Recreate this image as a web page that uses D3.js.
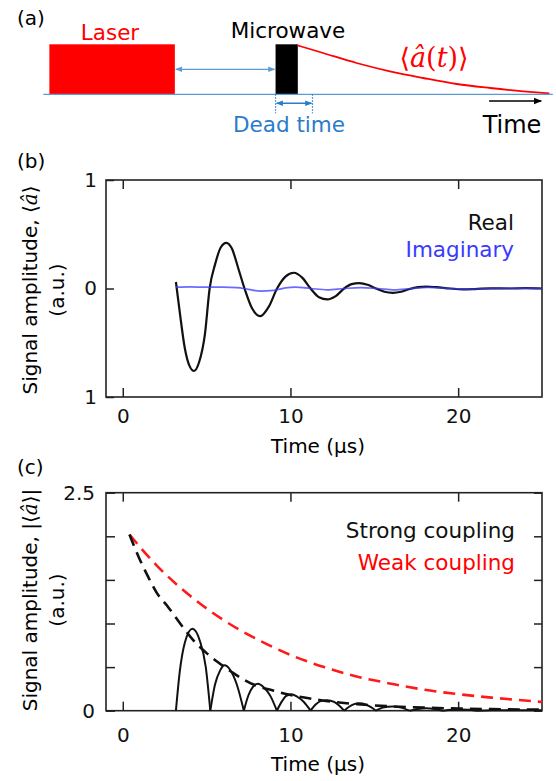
<!DOCTYPE html>
<html>
<head>
<meta charset="utf-8">
<script src="https://cdn.jsdelivr.net/npm/d3@7"></script>
<style>
	body { margin: 0; background: #fff; }
	svg { display: block; font-family: "DejaVu Sans", Verdana, sans-serif; }
</style>
</head>
<body>
<svg id="chart" width="556" height="781"></svg>
<script>
// panel (a) schematic, position along the time line in arbitrary units (0..1)
var laserPulse = [0.012, 0.26];
var microwavePulse = [0.459, 0.503];
var deadTime = [0.459, 0.532];
var decayTime = [0.502, 0.553, 0.619, 0.685, 0.751, 0.817, 0.883, 0.949, 1.0];
var decayLevel = [0.98, 0.826, 0.626, 0.46, 0.326, 0.206, 0.126, 0.06, 0.02];

// panel (b) : real and imaginary part of the signal
var realTime = [3.17, 3.4, 3.7, 4.0, 4.25, 4.55, 4.9, 5.18, 5.5, 5.85, 6.17, 6.5, 6.9, 7.26, 7.7, 8.2, 8.7, 9.2,
	9.7, 10.2, 10.7, 11.2, 11.7, 12.2, 12.7, 13.2, 13.65, 14.1, 14.6, 15.1, 15.6, 16.1, 16.6, 17.1, 17.6, 18.1,
	18.7, 19.5, 20.3, 21, 22, 23, 24, 25];
var realValues = [0.06, -0.22, -0.55, -0.72, -0.76, -0.68, -0.42, 0.0, 0.22, 0.38, 0.42, 0.37, 0.18, 0.0, -0.18, -0.255, -0.17, 0.0,
	0.11, 0.145, 0.1, 0.0, -0.08, -0.1, -0.07, 0.0, 0.04, 0.05, 0.035, 0.0, -0.03, -0.04, -0.03, -0.005, 0.012, 0.018,
	0.012, 0.0, -0.008, -0.005, 0.002, 0.0, 0.004, 0.0];
var imagTime = [3.17, 4, 5, 6, 6.8, 7.5, 8.2, 9, 9.7, 10.3, 11.2, 12.2, 13.2, 14.2, 15.2, 16.2, 17.2, 18.2, 19.5, 20.5, 22, 23.5, 25];
var imagValues = [0.012, 0.015, 0.012, 0.012, 0.008, -0.008, -0.025, -0.018, 0.005, 0.012, 0.0, -0.012, 0.0, 0.008, 0.0, -0.012, 0.0, 0.01, 0.0, -0.005, 0.0, 0.003, 0.0];
var xTicks = [0, 10, 20];
var yTicksB = [-1, 0, 1];
var yTickLabelsB = ['1', '0', '1'];
var legendB = ['Real', 'Imaginary'];

// panel (c) : |signal| for strong coupling, and the two envelopes
var strongTime = [3.17, 3.4, 3.7, 4.15, 4.6, 4.95, 5.22, 5.5, 5.8, 6.07, 6.4, 6.8, 7.22, 7.5, 7.75, 8.06, 8.4, 8.8, 9.19,
	9.5, 9.75, 10.05, 10.4, 10.8, 11.2, 11.5, 11.8, 12.2, 12.6, 12.9, 13.2, 13.5, 13.8, 14.1, 14.5, 14.8, 15.1,
	15.5, 16.1, 16.6, 17.1, 17.6, 18.1, 18.6, 19.1, 19.6, 20.1, 20.6, 21.1, 22, 23, 24, 25];
var strongValues = [0, 0.45, 0.78, 0.94, 0.8, 0.5, 0, 0.3, 0.46, 0.52, 0.47, 0.3, 0, 0.18, 0.27, 0.31, 0.27, 0.17, 0,
	0.11, 0.17, 0.19, 0.16, 0.1, 0, 0.07, 0.11, 0.12, 0.1, 0.06, 0, 0.045, 0.075, 0.085, 0.07, 0.04, 0,
	0.035, 0.048, 0.035, 0, 0.02, 0.028, 0.02, 0, 0.012, 0.015, 0.01, 0, 0.006, 0.004, 0.006, 0.004];
var strongEnvTime = [0.4, 1, 1.5, 2, 2.7, 3.5, 4.2, 5, 6, 6.6, 7.8, 9, 10, 11, 12, 14, 16, 18, 20, 22, 25];
var strongEnvValues = [2.02, 1.74, 1.54, 1.36, 1.19, 0.98, 0.81, 0.66, 0.51, 0.43, 0.3, 0.23, 0.18, 0.145, 0.115, 0.075, 0.05, 0.035, 0.025, 0.018, 0.012];
var weakEnvTime = [0.4, 2, 4, 6, 8, 10, 12, 14, 16, 18, 20, 22, 25];
var weakEnvValues = [2.02, 1.67, 1.32, 1.04, 0.82, 0.64, 0.5, 0.39, 0.31, 0.24, 0.19, 0.15, 0.1];
var yTicksC = [0, 0.5, 1, 1.5, 2, 2.5];
var legendC = ['Strong coupling', 'Weak coupling'];

(function () {
	var svg = d3.select('#chart');
	var blue = '#5b9bd5';
	var darkBlue = '#2a7bcc';

	var defs = svg.append('defs');
	function marker(id, color, size) {
		defs.append('marker')
			.attr('id', id)
			.attr('viewBox', '0 0 10 10')
			.attr('refX', 9).attr('refY', 5)
			.attr('markerUnits', 'userSpaceOnUse')
			.attr('markerWidth', size).attr('markerHeight', size)
			.attr('orient', 'auto-start-reverse')
			.append('path')
			.attr('d', 'M0,1 L10,5 L0,9 Z')
			.attr('fill', color);
	}
	marker('arrBlue', blue, 7);
	marker('arrDark', darkBlue, 7);
	marker('arrBlack', '#000', 8);

	// ---------------- panel (a) ----------------
	var xa = d3.scaleLinear().domain([0, 1]).range([43.3, 549.3]);
	var ya = d3.scaleLinear().domain([0, 1]).range([94.3, 44.3]);
	var ga = svg.append('g');

	ga.append('rect')
		.attr('x', xa(laserPulse[0])).attr('y', ya(1))
		.attr('width', xa(laserPulse[1]) - xa(laserPulse[0]))
		.attr('height', ya(0) - ya(1))
		.attr('fill', '#ff0000');
	ga.append('rect')
		.attr('x', xa(microwavePulse[0])).attr('y', ya(1))
		.attr('width', xa(microwavePulse[1]) - xa(microwavePulse[0]))
		.attr('height', ya(0) - ya(1))
		.attr('fill', '#000');

	var decayPts = decayTime.map(function (t, i) { return [t, decayLevel[i]]; });
	ga.append('path')
		.datum(decayPts)
		.attr('fill', 'none')
		.attr('stroke', '#ff0000')
		.attr('stroke-width', 1.8)
		.attr('d', d3.line().x(function (d) { return xa(d[0]); }).y(function (d) { return ya(d[1]); }).curve(d3.curveMonotoneX));

	ga.append('line')
		.attr('x1', xa(0)).attr('x2', xa(1.007))
		.attr('y1', ya(0)).attr('y2', ya(0))
		.attr('stroke', blue).attr('stroke-width', 1.3);

	ga.append('line')
		.attr('x1', xa(laserPulse[1]) + 1).attr('x2', xa(microwavePulse[0]) - 1)
		.attr('y1', ya(0.5)).attr('y2', ya(0.5))
		.attr('stroke', blue).attr('stroke-width', 1.2)
		.attr('marker-start', 'url(#arrBlue)').attr('marker-end', 'url(#arrBlue)');

	deadTime.forEach(function (t) {
		ga.append('line')
			.attr('x1', xa(t)).attr('x2', xa(t))
			.attr('y1', ya(0)).attr('y2', ya(-0.38))
			.attr('stroke', darkBlue).attr('stroke-width', 1.2)
			.attr('stroke-dasharray', '1.5,1.5');
	});
	ga.append('line')
		.attr('x1', xa(deadTime[0]) + 1).attr('x2', xa(deadTime[1]) - 1)
		.attr('y1', ya(-0.18)).attr('y2', ya(-0.18))
		.attr('stroke', darkBlue).attr('stroke-width', 1.5)
		.attr('marker-start', 'url(#arrDark)').attr('marker-end', 'url(#arrDark)');

	ga.append('line')
		.attr('x1', xa(0.881)).attr('x2', xa(0.984))
		.attr('y1', ya(-0.134)).attr('y2', ya(-0.134))
		.attr('stroke', '#000').attr('stroke-width', 1.3)
		.attr('marker-end', 'url(#arrBlack)');

	ga.append('text').attr('x', 17).attr('y', 25).attr('font-size', 20).text('(a)');
	ga.append('text').attr('x', 110).attr('y', 40).attr('font-size', 21.5)
		.attr('text-anchor', 'middle').attr('fill', '#ff0000').text('Laser');
	ga.append('text').attr('x', 288).attr('y', 38).attr('font-size', 21.5)
		.attr('text-anchor', 'middle').attr('fill', '#000').text('Microwave');
	ga.append('text').attr('x', 289).attr('y', 132).attr('font-size', 21.5)
		.attr('text-anchor', 'middle').attr('fill', darkBlue).text('Dead time');
	ga.append('text').attr('x', 512).attr('y', 133).attr('font-size', 24)
		.attr('text-anchor', 'middle').attr('fill', '#000').text('Time');

	var formula = ga.append('text').attr('x', 434).attr('y', 67).attr('font-size', 27)
		.attr('text-anchor', 'middle').attr('fill', '#ff0000')
		.attr('font-family', '"DejaVu Serif", serif');
	formula.append('tspan').text('\u27E8');
	formula.append('tspan').attr('font-style', 'italic').text('\u00E2');
	formula.append('tspan').text('(');
	formula.append('tspan').attr('font-style', 'italic').text('t');
	formula.append('tspan').text(')\u27E9');

	// ---------------- shared helpers for (b) and (c) ----------------
	var x = d3.scaleLinear().domain([-1, 25]).range([106, 542]);

	function frame(g, top, bottom) {
		g.append('rect')
			.attr('x', x.range()[0]).attr('y', top)
			.attr('width', x.range()[1] - x.range()[0])
			.attr('height', bottom - top)
			.attr('fill', 'none')
			.attr('stroke', '#222')
			.attr('stroke-width', 1.6);
	}

	function styleAxis(sel) {
		sel.select('.domain').remove();
		sel.selectAll('line').attr('stroke', '#222').attr('stroke-width', 1.5);
		sel.selectAll('text').attr('font-size', 20).attr('font-family', '"DejaVu Sans", Verdana, sans-serif').attr('fill', '#111');
	}

	function yLabel(g, cy, pre, post) {
		var t = g.append('text')
			.attr('transform', 'translate(37,' + cy + ') rotate(-90)')
			.attr('text-anchor', 'middle')
			.attr('font-size', 20);
		t.append('tspan').text(pre + '\u27E8');
		t.append('tspan').attr('font-family', '"DejaVu Serif", serif').attr('font-style', 'italic').text('\u00E2');
		t.append('tspan').text('\u27E9' + post);
		g.append('text')
			.attr('transform', 'translate(64,' + cy + ') rotate(-90)')
			.attr('text-anchor', 'middle')
			.attr('font-size', 20)
			.text('(a.u.)');
	}

	// ---------------- panel (b) ----------------
	var yb = d3.scaleLinear().domain([-1, 1]).range([397, 180]);
	var gb = svg.append('g');

	gb.append('g').attr('transform', 'translate(0,397)')
		.call(d3.axisBottom(x).tickValues(xTicks).tickSize(-9).tickPadding(12))
		.call(styleAxis);
	gb.append('g').attr('transform', 'translate(0,180)')
		.call(d3.axisTop(x).tickValues(xTicks).tickSize(-9).tickFormat(''))
		.call(styleAxis);
	gb.append('g').attr('transform', 'translate(106,0)')
		.call(d3.axisLeft(yb).tickValues(yTicksB).tickSize(-8).tickPadding(9)
			.tickFormat(function (d, i) { return yTickLabelsB[i]; }))
		.call(styleAxis);
	frame(gb, 180, 397);

	var lineB = d3.line()
		.x(function (d) { return x(d[0]); })
		.y(function (d) { return yb(d[1]); })
		.curve(d3.curveMonotoneX);

	gb.append('path')
		.datum(realTime.map(function (t, i) { return [t, realValues[i]]; }))
		.attr('fill', 'none').attr('stroke', '#111').attr('stroke-width', 2.2)
		.attr('d', lineB);
	gb.append('path')
		.datum(imagTime.map(function (t, i) { return [t, imagValues[i]]; }))
		.attr('fill', 'none').attr('stroke', '#3a3aff').attr('stroke-width', 1.7)
		.attr('stroke-opacity', 0.75)
		.attr('d', lineB);

	gb.selectAll('.legb')
		.data(legendB)
		.enter()
		.append('text')
		.attr('class', 'legb')
		.attr('x', 514)
		.attr('y', function (d, i) { return 230 + i * 27; })
		.attr('text-anchor', 'end')
		.attr('font-size', 21.5)
		.attr('fill', function (d, i) { return i === 0 ? '#111' : '#3a3aff'; })
		.text(function (d) { return d; });

	gb.append('text').attr('x', 17).attr('y', 168).attr('font-size', 20).text('(b)');
	gb.append('text').attr('x', 318).attr('y', 453).attr('font-size', 20)
		.attr('text-anchor', 'middle').text('Time (\u03BCs)');
	yLabel(gb, 290, 'Signal amplitude, ', '');

	// ---------------- panel (c) ----------------
	var yc = d3.scaleLinear().domain([0, 2.5]).range([710.7, 492.7]);
	var gc = svg.append('g');

	gc.append('g').attr('transform', 'translate(0,710.7)')
		.call(d3.axisBottom(x).tickValues(xTicks).tickSize(-9).tickPadding(17))
		.call(styleAxis);
	gc.append('g').attr('transform', 'translate(0,492.7)')
		.call(d3.axisTop(x).tickValues(xTicks).tickSize(-9).tickFormat(''))
		.call(styleAxis);
	gc.append('g').attr('transform', 'translate(106,0)')
		.call(d3.axisLeft(yc).tickValues(yTicksC).tickSize(-9).tickPadding(11)
			.tickFormat(function (d) { return (d === 0 || d === 2.5) ? String(d) : ''; }))
		.call(styleAxis);
	gc.append('g').attr('transform', 'translate(542,0)')
		.call(d3.axisRight(yc).tickValues(yTicksC).tickSize(-8).tickFormat(''))
		.call(styleAxis);
	frame(gc, 492.7, 710.7);

	var lineC = d3.line()
		.x(function (d) { return x(d[0]); })
		.y(function (d) { return yc(d[1]); })
		.curve(d3.curveMonotoneX);

	gc.append('path')
		.datum(weakEnvTime.map(function (t, i) { return [t, weakEnvValues[i]]; }))
		.attr('fill', 'none').attr('stroke', '#ff1a1a').attr('stroke-width', 2.6)
		.attr('stroke-dasharray', '12,7')
		.attr('d', lineC);
	gc.append('path')
		.datum(strongEnvTime.map(function (t, i) { return [t, strongEnvValues[i]]; }))
		.attr('fill', 'none').attr('stroke', '#111').attr('stroke-width', 2.6)
		.attr('stroke-dasharray', '12,7')
		.attr('d', lineC);

	// split |signal| into humps at its zeros so the cusps stay sharp
	var segs = [];
	var cur = [];
	strongTime.forEach(function (t, i) {
		var p = [t, strongValues[i]];
		cur.push(p);
		if (p[1] === 0 && cur.length > 1) {
			segs.push(cur);
			cur = [p];
		}
	});
	if (cur.length > 1) segs.push(cur);

	gc.selectAll('.hump')
		.data(segs)
		.enter()
		.append('path')
		.attr('class', 'hump')
		.attr('fill', 'none').attr('stroke', '#111').attr('stroke-width', 2)
		.attr('d', lineC);

	gc.selectAll('.legc')
		.data(legendC)
		.enter()
		.append('text')
		.attr('class', 'legc')
		.attr('x', 515)
		.attr('y', function (d, i) { return 538 + i * 32; })
		.attr('text-anchor', 'end')
		.attr('font-size', 21.5)
		.attr('fill', function (d, i) { return i === 0 ? '#111' : '#ff0000'; })
		.text(function (d) { return d; });

	gc.append('text').attr('x', 17).attr('y', 474).attr('font-size', 20).text('(c)');
	gc.append('text').attr('x', 318).attr('y', 771).attr('font-size', 20)
		.attr('text-anchor', 'middle').text('Time (\u03BCs)');
	yLabel(gc, 600, 'Signal amplitude, |', '|');
}());
</script>
</body>
</html>
